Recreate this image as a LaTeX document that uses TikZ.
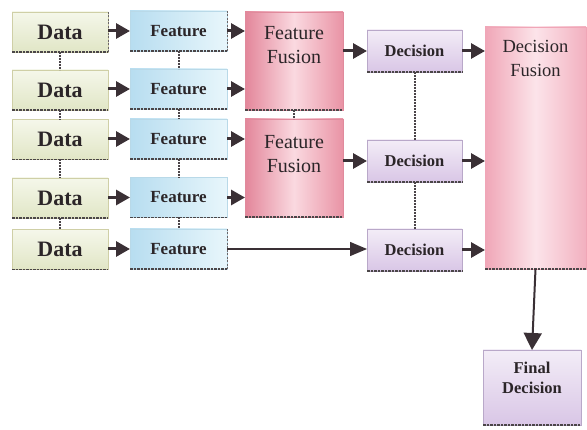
\documentclass[tikz,border=0pt]{standalone}
\usepackage{fontspec}
\setmainfont{Liberation Serif}
\usetikzlibrary{arrows.meta}

\definecolor{ink}{HTML}{2B2528}
\definecolor{arrowink}{HTML}{3A3035}
\definecolor{dataedge}{HTML}{CFCFA6}
\definecolor{dataA}{HTML}{F5F7EA}
\definecolor{dataB}{HTML}{E1E6C6}
\definecolor{featedge}{HTML}{B9D9E8}
\definecolor{featA}{HTML}{B7DDF0}
\definecolor{featB}{HTML}{E8F6FB}
\definecolor{fuseedge}{HTML}{E08A9C}
\definecolor{fuseA}{HTML}{E3869A}
\definecolor{fuseB}{HTML}{FAD9E0}
\definecolor{fuseC}{HTML}{E993A5}
\definecolor{dfA}{HTML}{F0A6B7}
\definecolor{dfB}{HTML}{FCE4EA}
\definecolor{dfC}{HTML}{F2B0BF}
\definecolor{decedge}{HTML}{B9A8C9}
\definecolor{decA}{HTML}{F3EDF7}
\definecolor{decB}{HTML}{D9C6E6}
\definecolor{dotink}{HTML}{4A4448}

\begin{document}
\begin{tikzpicture}[x=1pt,y=-1pt,
  box/.style={draw, line width=0.8pt, inner sep=0pt, outer sep=0pt, text=ink},
  databox/.style={box, draw=dataedge, top color=dataA, bottom color=dataB,
    minimum width=96pt, minimum height=40pt,
    font=\fontsize{22}{24}\selectfont\bfseries},
  featbox/.style={box, draw=featedge, left color=featA, right color=featB,
    minimum width=97pt, minimum height=40pt,
    font=\fontsize{17}{20}\selectfont\bfseries},
  fusebox/.style={box, draw=fuseedge, left color=fuseA, right color=fuseC, middle color=fuseB,
    minimum width=98pt, minimum height=98pt},
  dfbox/.style={box, draw=dfA, left color=dfA, right color=dfC, middle color=dfB,
    minimum width=101pt, minimum height=242pt},
  decbox/.style={box, draw=decedge, top color=decA, bottom color=decB,
    minimum width=95pt, minimum height=42pt,
    font=\fontsize{16.5}{20}\selectfont\bfseries},
  fusetext/.style={inner sep=0pt, text=ink, align=center,
    font=\fontsize{20}{24}\selectfont},
  finaltext/.style={inner sep=0pt, text=ink, align=center,
    font=\fontsize{16.5}{20}\selectfont\bfseries},
  edgeline/.style={draw=ink!85, line width=1.6pt, dash pattern=on 2.5pt off 1pt},
  flow/.style={draw=arrowink, line width=3pt, -{Triangle[length=14pt,width=15pt]}},
  thinflow/.style={draw=arrowink, line width=1.3pt, -{Triangle[length=17pt,width=14pt]}},
  downflow/.style={draw=arrowink, line width=2pt, -{Triangle[length=17pt,width=18pt]}},
  dotline/.style={draw=dotink, line width=2pt, dash pattern=on 1.6pt off 1.4pt},
]
\useasboundingbox (0,0) rectangle (587,430);

% raw data sources
\node[databox] (d1) at (60,32) {Data};
\node[databox] (d2) at (60,90) {Data};
\node[databox] (d3) at (60,139.5) {Data};
\node[databox] (d4) at (60,198) {Data};
\node[databox] (d5) at (60,249.5) {Data};

% extracted features
\node[featbox] (f1) at (178.5,31) {Feature};
\node[featbox] (f2) at (178.5,89) {Feature};
\node[featbox] (f3) at (178.5,139) {Feature};
\node[featbox] (f4) at (178.5,197.5) {Feature};
\node[featbox] (f5) at (178.5,249) {Feature};

% feature-level fusion
\node[fusebox] (ff1) at (294,61) {};
\node[fusetext] (ff1t) at (294,45) {Feature\\Fusion};
\node[fusebox] (ff2) at (294,168) {};
\node[fusetext] (ff2t) at (294,154) {Feature\\Fusion};

% local decisions
\node[decbox] (c1) at (414.5,51) {Decision};
\node[decbox] (c2) at (414.5,161) {Decision};
\node[decbox] (c3) at (414.5,250) {Decision};

% decision-level fusion
\node[dfbox] (df) at (535.5,148) {};
\node[fusetext, font=\fontsize{18.5}{24}\selectfont] (dft) at (535.5,58) {Decision\\Fusion};

% final decision
\node[box, draw=decedge, top color=decA, bottom color=decB,
      minimum width=98pt, minimum height=75pt] (fin) at (532,387.5) {};
\node[finaltext] (fint) at (532,378) {Final\\Decision};

% dark lower edges
\foreach \n in {d1,d2,d3,d4,d5,f1,f2,f3,f4,f5,ff1,ff2,c1,c2,c3,df,fin}
  \draw[edgeline] (\n.south west) -- (\n.south east);
\foreach \n in {d1,f1,f5}
  \draw[draw=ink!70, line width=0.9pt, dash pattern=on 2pt off 1.5pt] (\n.north east) -- (\n.south east);

% dotted links between parallel branches
\draw[dotline] (d1.south) -- (d2.north);
\draw[dotline] (d2.south) -- (d3.north);
\draw[dotline] (d3.south) -- (d4.north);
\draw[dotline] (d4.south) -- (d5.north);
\draw[dotline] (f1.south) -- (f2.north);
\draw[dotline] (f2.south) -- (f3.north);
\draw[dotline] (f3.south) -- (f4.north);
\draw[dotline] (f4.south) -- (f5.north);
\draw[dotline] (ff1.south) -- (ff2.north);
\draw[dotline] (c1.south) -- (c2.north);
\draw[dotline] (c2.south) -- (c3.north);

% data -> feature
\foreach \i in {1,...,5}
  \draw[flow] (d\i.east |- f\i.west) -- (f\i.west);

% feature -> feature fusion
\draw[flow] (f1.east) -- (f1.east -| ff1.west);
\draw[flow] (f2.east) -- (f2.east -| ff1.west);
\draw[flow] (f3.east) -- (f3.east -| ff2.west);
\draw[flow] (f4.east) -- (f4.east -| ff2.west);

% feature -> decision (direct path)
\draw[thinflow] (f5.east) -- (f5.east -| c3.west);

% feature fusion -> decision
\draw[flow] (ff1.east |- c1.west) -- (c1.west);
\draw[flow] (ff2.east |- c2.west) -- (c2.west);

% decision -> decision fusion
\foreach \i in {1,2,3}
  \draw[flow] (c\i.east) -- (c\i.east -| df.west);

% decision fusion -> final decision
\draw[downflow] (df.south) -- (fin.north);
\end{tikzpicture}
\end{document}
